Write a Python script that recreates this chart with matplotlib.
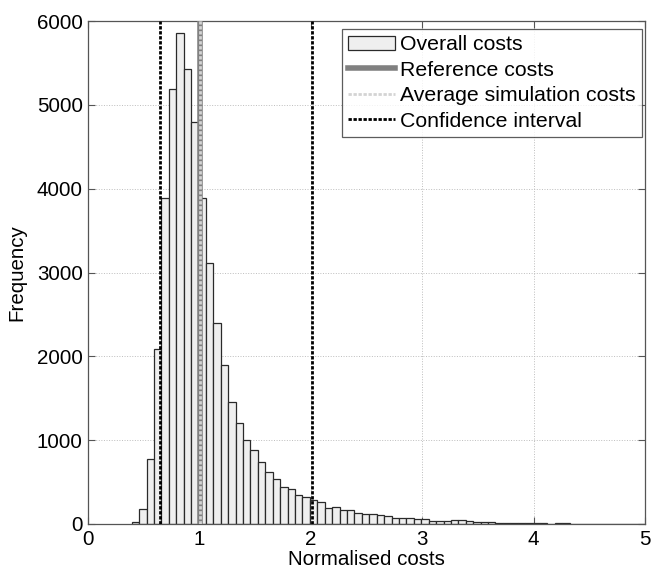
import numpy as np
import matplotlib
matplotlib.use('Agg')
import matplotlib.pyplot as plt
from matplotlib.patches import Patch
from matplotlib.lines import Line2D

# ── Data ─────────────────────────────────────────────────────────────────────
bin_start = 0.39
bin_width = 1 / 15
counts = [18, 180, 770, 2090, 3890, 5190, 5860, 5430, 4800, 3890,
          3110, 2400, 1900, 1450, 1210, 1005, 880, 740, 615, 535,
          440, 420, 340, 318, 285, 260, 188, 200, 162, 162,
          129, 115, 115, 108, 91, 75, 75, 67, 56, 56,
          40, 32, 32, 44, 44, 32, 24, 22, 20, 12,
          10, 10, 8, 6, 8, 6, 5, 6, 8, 5,
          4, 3, 3, 3, 3, 2, 2, 3, 2, 4]
reference_cost = 1.0
average_cost = 1.005
confidence = [0.645, 2.005]

plt.rcParams['font.family'] = ['Liberation Sans', 'DejaVu Sans']

fig = plt.figure(figsize=(6.55, 5.79), dpi=100)
ax = fig.add_axes([0.1348, 0.095, 0.85, 0.8687])

edges = bin_start + bin_width * np.arange(len(counts))
ax.bar(edges, counts, width=bin_width, align='edge', color='#efefef',
       edgecolor='#2a2a2a', linewidth=0.9, zorder=2)

ax.axvline(reference_cost, color='#808080', lw=4, zorder=3)
ax.axvline(average_cost, color='#d4d4d4', lw=2, ls=(0, (1.2, 0.6)), zorder=4)
for c in confidence:
    ax.axvline(c, color='black', lw=2, ls=(0, (1.2, 0.6)), zorder=4)

ax.set_xlim(0, 5)
ax.set_ylim(0, 6000)
ax.set_xticks(range(6))
ax.set_yticks(range(0, 6001, 1000))
ax.grid(True, ls=':', color='#bdbdbd', lw=0.7, zorder=0)
ax.set_axisbelow(True)
ax.tick_params(direction='in', length=5, top=True, right=True,
               labelsize=14.8, color='#555555', pad=4)
for s in ax.spines.values():
    s.set_color('#555555')
    s.set_linewidth(0.9)

ax.set_xlabel('Normalised costs', fontsize=14.8, labelpad=1)
ax.set_ylabel('Frequency', fontsize=14.8, labelpad=7.5)

handles = [
    Patch(facecolor='#efefef', edgecolor='#2a2a2a', lw=0.9),
    Line2D([], [], color='#808080', lw=4),
    Line2D([], [], color='#d4d4d4', lw=2, ls=(0, (1.2, 0.6))),
    Line2D([], [], color='black', lw=2, ls=(0, (1.2, 0.6))),
]
labels = ['Overall costs', 'Reference costs', 'Average simulation costs',
          'Confidence interval']
leg = ax.legend(handles, labels, loc='upper right', fontsize=15.3,
                bbox_to_anchor=(1 - 3 / 557, 1 - 8 / 503), borderaxespad=0,
                frameon=True, fancybox=False, edgecolor='#333333',
                handlelength=2.2, handletextpad=0.25, labelspacing=0.3,
                borderpad=0.3)
leg.get_frame().set_linewidth(0.9)

fig.savefig('out.png', dpi=100)
